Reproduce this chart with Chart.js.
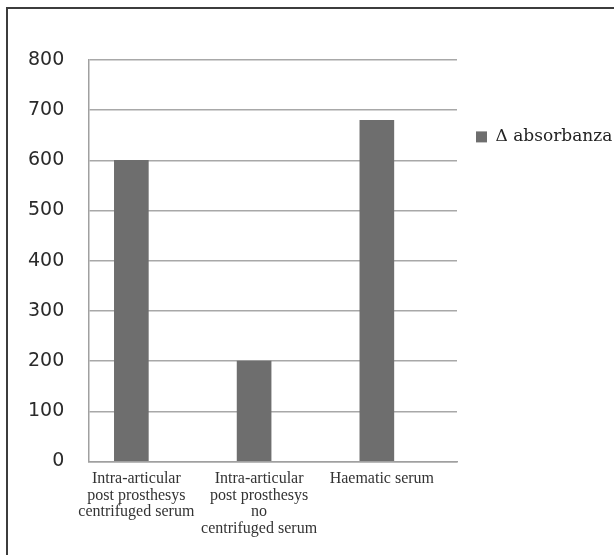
<!DOCTYPE html>
<html>
<head>
<meta charset="utf-8">
<script src="https://cdn.jsdelivr.net/npm/chart.js@4/dist/chart.umd.min.js"></script>
<style>
  html, body { margin: 0; padding: 0; background: #ffffff; }
  #wrap { position: relative; width: 614px; height: 555px; overflow: hidden; }
  #frame { position: absolute; left: 6px; top: 7px; right: -10px; bottom: -10px;
           border-left: 2px solid #3c3c3c; border-top: 2px solid #3c3c3c; pointer-events: none; }
  canvas { position: absolute; left: 0; top: 0; }
</style>
</head>
<body>
<div id="wrap">
  <canvas id="c" width="614" height="555"></canvas>
  <div id="frame"></div>
</div>
<script>
// ---- data ----
const categories = [
  ["Intra-articular", "post prosthesys", "centrifuged serum"],
  ["Intra-articular", "post prosthesys", "no", "centrifuged serum"],
  ["Haematic serum"]
];
const seriesName = "\u0394 absorbanza";
const seriesValues = [600, 200, 680];
const yTicks = [0, 100, 200, 300, 400, 500, 600, 700, 800];

const points = seriesValues.map((v, i) => ({ x: i, y: v }));

new Chart(document.getElementById('c'), {
  type: 'bar',
  data: {
    datasets: [{
      label: seriesName,
      data: points,
      backgroundColor: '#6e6e6e',
      borderWidth: 0,
      barThickness: 34
    }]
  },
  options: {
    responsive: false,
    animation: false,
    devicePixelRatio: 1,
    layout: { padding: { left: 4, top: 60, right: 0, bottom: 9 } },
    plugins: {
      tooltip: { enabled: false },
      legend: {
        display: true,
        position: 'right',
        align: 'start',
        maxWidth: 157,
        title: { display: true, text: ' ', padding: { top: 35, bottom: 0 }, font: { size: 12 } },
        labels: {
          boxWidth: 11,
          boxHeight: 11,
          padding: 19,
          color: '#222222',
          font: { family: 'DejaVu Serif', size: 17 }
        }
      }
    },
    scales: {
      x: {
        type: 'linear',
        min: -0.351,
        max: 2.653,
        offset: false,
        grid: { display: false, drawTicks: false },
        border: { display: true, color: '#a0a0a0', width: 1.5 },
        afterBuildTicks: (s) => { s.ticks = categories.map((_, i) => ({ value: i })); },
        ticks: {
          autoSkip: false,
          maxRotation: 0,
          minRotation: 0,
          labelOffset: 5,
          padding: 9,
          color: '#333333',
          font: { family: 'Liberation Serif', size: 16, lineHeight: 1.04 },
          callback: (v) => categories[v] || ''
        }
      },
      y: {
        type: 'linear',
        min: 0,
        max: 800,
        afterBuildTicks: (s) => { s.ticks = yTicks.map(v => ({ value: v })); },
        grid: { color: '#a8a8a8', lineWidth: 1.5, drawTicks: false },
        border: { display: true, color: '#a0a0a0', width: 1.5 },
        ticks: {
          padding: 24,
          color: '#2a2a2a',
          font: { family: 'DejaVu Sans', size: 19 }
        }
      }
    }
  }
});
</script>
</body>
</html>
